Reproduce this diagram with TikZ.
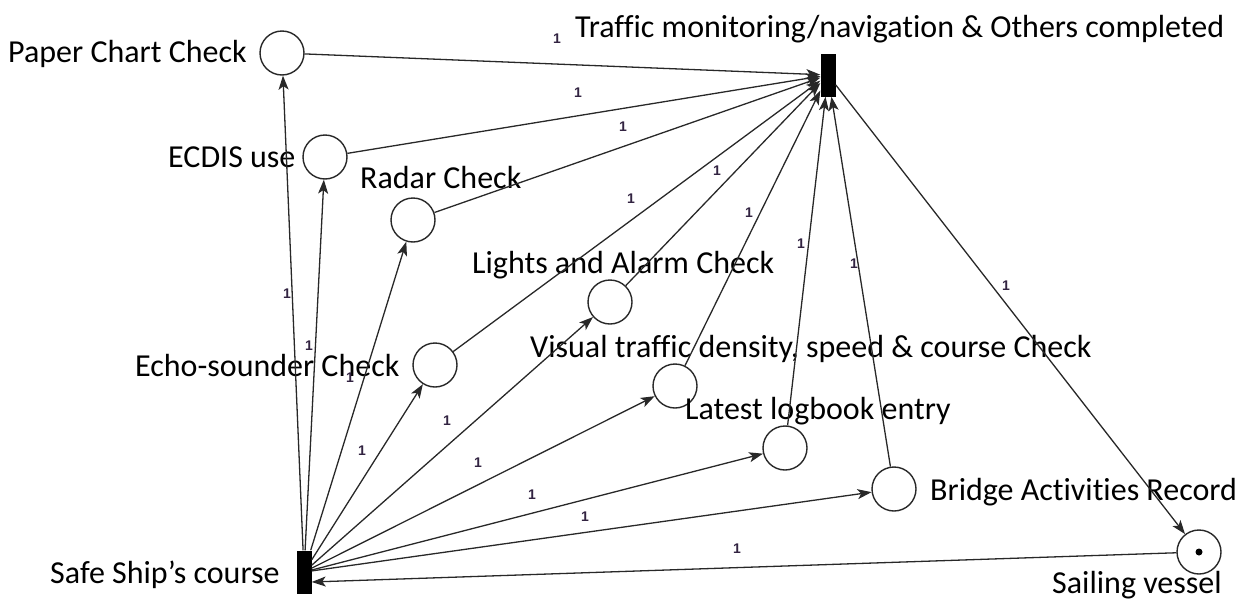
\documentclass[tikz,border=0pt]{standalone}
\usepackage{fontspec}
\setmainfont{Carlito}[Ligatures={NoCommon}]
\newfontfamily\weightfont{Liberation Sans}
\usetikzlibrary{arrows.meta}
\definecolor{wcol}{RGB}{50,35,65}
\definecolor{edgecol}{RGB}{40,40,40}
\begin{document}
\begin{tikzpicture}[x=1pt,y=-1pt,
  place/.style={circle,draw=edgecol,line width=1.4pt,minimum size=44pt,inner sep=0pt},
  trans/.style={rectangle,fill=black,minimum width=15pt,minimum height=43pt,inner sep=0pt},
  lbl/.style={anchor=base west,inner sep=0pt,font=\fontsize{32}{38}\selectfont},
  arc/.style={draw=edgecol,line width=1.3pt,-{Stealth[length=14pt,width=10pt,inset=3.5pt]}},
  wt/.style={inner sep=0pt,text=wcol,font=\weightfont\bfseries\fontsize{14}{14}\selectfont}]
\useasboundingbox (0,0) rectangle (1254,600);

% transitions
\node[trans] (T) at (828,75) {};
\node[trans] (S) at (304,572) {};

% places
\node[place] (pc) at (282,53) {};
\node[place] (ec) at (325,157) {};
\node[place] (ra) at (413,220) {};
\node[place] (es) at (435,365) {};
\node[place] (la) at (610,302) {};
\node[place] (vt) at (675,386) {};
\node[place] (lb) at (785,448) {};
\node[place] (br) at (894,489) {};
\node[place] (sv) at (1199,552) {};
\fill[black] (sv.center) circle (3.5pt);

% labels
\node[lbl] (lpc) at (8,62) {Paper Chart Check};
\node[lbl] (lT) at (575,37) {Traffic monitoring/navigation \& Others completed};
\node[lbl] (lec) at (168,167) {ECDIS use};
\node[lbl] (lra) at (360,188) {Radar Check};
\node[lbl] (lla) at (472,273) {Lights and Alarm Check};
\node[lbl] (les) at (135,376) {Echo-sounder Check};
\node[lbl] (lvt) at (530,357) {Visual traffic density, speed \& course Check};
\node[lbl] (llb) at (685,419) {Latest logbook entry};
\node[lbl] (lbr) at (930,500) {Bridge Activities Record};
\node[lbl] (lS) at (50,583) {Safe Ship’s course};
\node[lbl] (lsv) at (1052,593) {Sailing vessel};

% arcs from the start transition to the check places
\foreach \p in {pc,ec,ra,es,la,vt,lb,br}
  \draw[arc] (S) -- (\p);
% arcs from the check places to the completion transition
\foreach \p in {pc,ec,ra,es,la,vt,lb,br}
  \draw[arc] (\p) -- (T);
% cycle back through the vessel place
\draw[arc] (T) -- (sv);
\draw[arc] (sv) -- ([yshift=-10pt]S.east);

% arc weights
\foreach \x/\y in {557/39,578/93,623/127,631/199,717/171,749/213,801/244,854/264,1006/286,
                   287/294,309/346,350/378,362/451,447/421,478/463,532/495,585/517,737/549}
  \node[wt] at (\x,\y) {1};
\end{tikzpicture}
\end{document}
